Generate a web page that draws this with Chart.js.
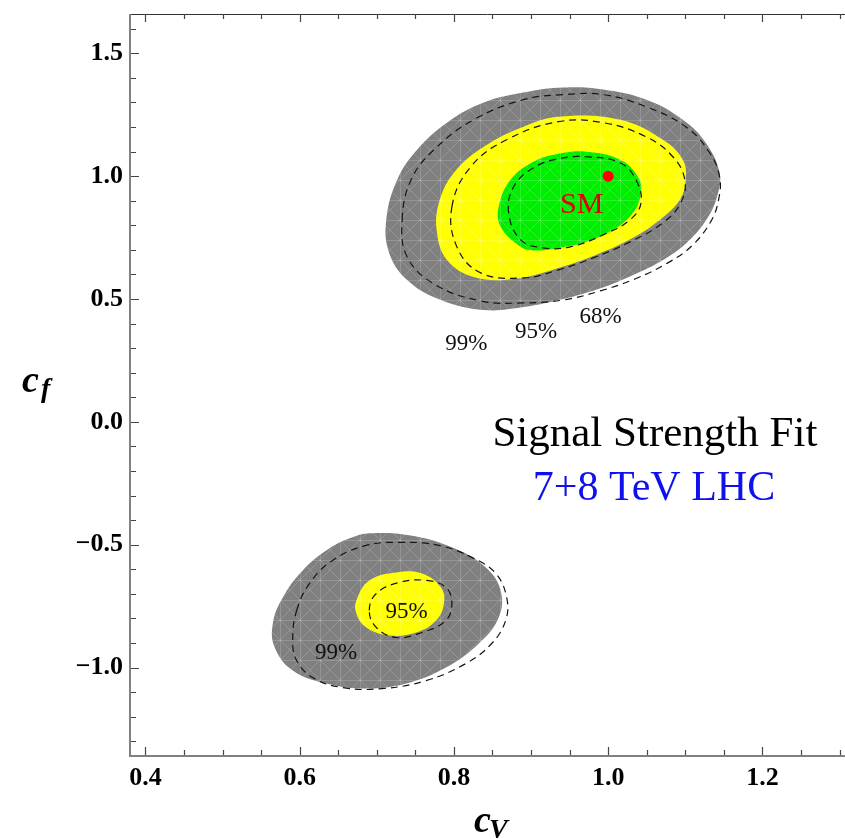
<!DOCTYPE html>
<html>
<head>
<meta charset="utf-8">
<title>Signal Strength Fit</title>
<script src="https://cdn.jsdelivr.net/npm/chart.js@4.4.1/dist/chart.umd.min.js"></script>
<style>
  html, body { margin: 0; padding: 0; background: #fff; }
  canvas { display: block; }
</style>
</head>
<body>
<canvas id="myChart" width="845" height="839"></canvas>
<script>
// axes
const xTicks = [0.4, 0.6, 0.8, 1.0, 1.2]
const xTickLabels = ['0.4', '0.6', '0.8', '1.0', '1.2']
const yTicks = [-1.0, -0.5, 0.0, 0.5, 1.0, 1.5]
const yTickLabels = ['\u22121.0', '\u22120.5', '0.0', '0.5', '1.0', '1.5']
const xMinorStep = 0.05
const yMinorStep = 0.1

// upper island (cV, cf) contours
const upper99Region = [
  [0.7123, 0.8223], [0.7265, 0.9853], [0.7523, 1.1076], [0.7910, 1.2177], [0.8387, 1.2993],
  [0.8903, 1.3400], [0.9419, 1.3604], [0.9935, 1.3523], [1.0490, 1.3115], [1.0968, 1.2299],
  [1.1265, 1.1361], [1.1445, 1.0139], [1.1419, 0.9242], [1.1290, 0.8304], [1.1032, 0.7326],
  [1.0735, 0.6633], [1.0297, 0.5940], [0.9871, 0.5410], [0.9419, 0.5002], [0.8903, 0.4676],
  [0.8387, 0.4554], [0.7832, 0.4961], [0.7394, 0.5777], [0.7161, 0.6877],
]
const upper95Region = [
  [0.7781, 0.7693], [0.7806, 0.8915], [0.8000, 1.0139], [0.8387, 1.1198], [0.8903, 1.2014],
  [0.9355, 1.2422], [1.0155, 1.2299], [1.0710, 1.1484], [1.0968, 1.0669], [1.1006, 0.9853],
  [1.0929, 0.9038], [1.0671, 0.8223], [1.0323, 0.7489], [0.9871, 0.6836], [0.9355, 0.6266],
  [0.8774, 0.5817], [0.8258, 0.5899], [0.7910, 0.6592],
]
const upper68Region = [
  [0.8581, 0.8752], [0.8735, 0.9853], [0.9032, 1.0587], [0.9355, 1.0913], [0.9716, 1.0995],
  [1.0155, 1.0669], [1.0387, 0.9976], [1.0426, 0.9323], [1.0323, 0.8508], [1.0065, 0.7815],
  [0.9677, 0.7285], [0.9355, 0.7081], [0.9032, 0.6973], [0.8865, 0.7122], [0.8606, 0.7937],
]
const upper99Line = [
  [0.7329, 0.8223], [0.7445, 0.9853], [0.7742, 1.1076], [0.8258, 1.2299], [0.8903, 1.3115],
  [0.9419, 1.3319], [0.9935, 1.3319], [1.0490, 1.2829], [1.1006, 1.2014], [1.1316, 1.0954],
  [1.1445, 0.9976], [1.1432, 0.9038], [1.1329, 0.8141], [1.1084, 0.7162], [1.0774, 0.6470],
  [1.0348, 0.5817], [0.9897, 0.5328], [0.9419, 0.4961], [0.8903, 0.4839], [0.8348, 0.4920],
  [0.7742, 0.5613], [0.7394, 0.6714],
]
const upper95Line = [
  [0.7974, 0.8752], [0.8219, 1.0383], [0.8684, 1.1484], [0.9355, 1.2218], [0.9935, 1.2177],
  [1.0490, 1.1606], [1.0839, 1.0791], [1.0994, 0.9853], [1.0942, 0.8915], [1.0710, 0.8100],
  [1.0284, 0.7325], [0.9806, 0.6673], [0.9355, 0.6184], [0.8903, 0.5858], [0.8348, 0.6062],
  [0.8039, 0.7122],
]
const upper68Line = [
  [0.8710, 0.8508], [0.8774, 0.9568], [0.9032, 1.0342], [0.9355, 1.0709], [0.9716, 1.0791],
  [1.0155, 1.0546], [1.0361, 0.9853], [1.0426, 0.8915], [1.0284, 0.8223], [0.9935, 0.7611],
  [0.9510, 0.7122], [0.9161, 0.7081], [0.8865, 0.7407],
]

// lower island
const lower99Region = [
  [0.5652, -0.8206], [0.5781, -0.7147], [0.6039, -0.6046], [0.6387, -0.5149], [0.6684, -0.4700],
  [0.6903, -0.4537], [0.7419, -0.4619], [0.7974, -0.5108], [0.8413, -0.5924], [0.8606, -0.6861],
  [0.8581, -0.7962], [0.8323, -0.9022], [0.7897, -1.0000], [0.7381, -1.0652], [0.6865, -1.0856],
  [0.6348, -1.0652], [0.5910, -1.0122], [0.5677, -0.9185],
]
const lower95Region = [
  [0.6735, -0.7269], [0.6903, -0.6453], [0.7252, -0.6128], [0.7587, -0.6169], [0.7832, -0.6739],
  [0.7871, -0.7391], [0.7768, -0.8084], [0.7510, -0.8573], [0.7161, -0.8695], [0.6865, -0.8369],
  [0.6735, -0.7799],
]
const lower99Line = [
  [0.5961, -0.7677], [0.6129, -0.6576], [0.6426, -0.5638], [0.6865, -0.5027], [0.7329, -0.4904],
  [0.7806, -0.5027], [0.8232, -0.5516], [0.8542, -0.6169], [0.8684, -0.7147], [0.8671, -0.8084],
  [0.8490, -0.9022], [0.8155, -0.9837], [0.7639, -1.0530], [0.7071, -1.0856], [0.6555, -1.0815],
  [0.6168, -1.0407], [0.5961, -0.9715], [0.5910, -0.8899],
]
const lower95Line = [
  [0.6903, -0.7677], [0.6994, -0.6984], [0.7290, -0.6535], [0.7639, -0.6453], [0.7897, -0.6739],
  [0.7974, -0.7391], [0.7897, -0.8084], [0.7587, -0.8573], [0.7252, -0.8777], [0.6994, -0.8369],
]

const smPoint = [1.0, 1.0]

// text placed at (cV, cf), baseline
const labelTexts = ['99%', '95%', '68%', '95%', '99%']
const labelX = [0.8161, 0.9065, 0.9903, 0.7387, 0.6471]
const labelY = [0.2923, 0.3412, 0.4024, -0.8002, -0.9633]

const SERIF = '"Liberation Serif", "Times New Roman", Times, serif'

// light triangular mesh like the Mathematica region fill
const makeMesh = (color) => {
  const s = 40
  const c = document.createElement('canvas')
  c.width = s
  c.height = s
  const g = c.getContext('2d')
  g.fillStyle = color
  g.fillRect(0, 0, s, s)
  g.strokeStyle = 'rgba(255,255,255,0.17)'
  g.lineWidth = 1
  g.beginPath()
  g.moveTo(0, 0.5); g.lineTo(s, 0.5)
  g.moveTo(0.5, 0); g.lineTo(0.5, s)
  g.moveTo(0, s / 2 + 0.5); g.lineTo(s, s / 2 + 0.5)
  g.moveTo(s / 2 + 0.5, 0); g.lineTo(s / 2 + 0.5, s)
  g.moveTo(0, 0); g.lineTo(s, s)
  g.moveTo(s, 0); g.lineTo(0, s)
  g.moveTo(s / 2, 0); g.lineTo(s, s / 2); g.lineTo(s / 2, s); g.lineTo(0, s / 2); g.closePath()
  g.stroke()
  return g.createPattern(c, 'repeat')
}

const grayFill = makeMesh('#808080')
const yellowFill = makeMesh('#ffff00')
const greenFill = makeMesh('#00ee00')

const toXY = (pts) => pts.map(([x, y]) => ({ x, y }))

const region = (pts, color, order) => ({
  data: toXY(pts),
  showLine: true,
  closed: true,
  fill: 'shape',
  backgroundColor: color,
  borderWidth: 0,
  tension: 0.4,
  spanGaps: true,
  pointRadius: 0,
  order,
})

const contour = (pts, order) => ({
  data: toXY(pts),
  showLine: true,
  closed: true,
  fill: false,
  borderColor: '#151515',
  borderWidth: 1.2,
  borderDash: [7, 5],
  tension: 0.4,
  spanGaps: true,
  pointRadius: 0,
  order,
})

// close every contour into a smooth loop
const loopPlugin = {
  id: 'loop',
  afterDatasetsUpdate(chart) {
    chart.data.datasets.forEach((ds, i) => {
      const meta = chart.getDatasetMeta(i)
      if (ds.closed && meta.dataset) {
        meta.dataset._loop = true
        meta.dataset._fullLoop = true
      }
    })
  },
}

const framePlugin = {
  id: 'frame',
  afterDatasetsDraw(chart) {
    const { ctx, scales: { x, y } } = chart
    ctx.save()
    ctx.fillStyle = '#111'
    ctx.font = `23px ${SERIF}`
    ctx.textAlign = 'center'
    ctx.textBaseline = 'alphabetic'
    labelTexts.forEach((t, i) => {
      ctx.fillText(t, x.getPixelForValue(labelX[i]), y.getPixelForValue(labelY[i]))
    })
    ctx.fillStyle = '#e00000'
    ctx.font = `30px ${SERIF}`
    ctx.fillText('SM', x.getPixelForValue(0.9658), y.getPixelForValue(0.8508))

    ctx.fillStyle = '#000'
    ctx.font = `43px ${SERIF}`
    ctx.fillText('Signal Strength Fit', x.getPixelForValue(1.0606), y.getPixelForValue(-0.0991))
    ctx.fillStyle = '#1010ee'
    ctx.font = `42px ${SERIF}`
    ctx.fillText('7+8 TeV LHC', x.getPixelForValue(1.0594), y.getPixelForValue(-0.3192))
    ctx.restore()
  },
  afterDraw(chart) {
    const { ctx, chartArea: a, scales: { x, y } } = chart
    ctx.save()
    // frame
    ctx.strokeStyle = '#333'
    ctx.lineWidth = 1
    ctx.beginPath()
    ctx.moveTo(a.left, a.top + 0.5)
    ctx.lineTo(chart.width, a.top + 0.5)
    ctx.stroke()
    ctx.strokeStyle = '#808080'
    ctx.lineWidth = 2
    ctx.beginPath()
    ctx.moveTo(a.left, a.top)
    ctx.lineTo(a.left, a.bottom)
    ctx.lineTo(chart.width, a.bottom)
    ctx.stroke()

    // inward ticks
    ctx.strokeStyle = '#444'
    ctx.lineWidth = 1.2
    ctx.beginPath()
    for (let v = 0.4; v <= x.max + 1e-9; v += xMinorStep) {
      const major = xTicks.some((t) => Math.abs(t - v) < 1e-6)
      const len = major ? 8 : 5
      const px = Math.round(x.getPixelForValue(v)) + 0.5
      ctx.moveTo(px, a.bottom - 1); ctx.lineTo(px, a.bottom - 1 - len)
      ctx.moveTo(px, a.top); ctx.lineTo(px, a.top + len)
    }
    for (let v = -1.3; v <= y.max + 1e-9; v += yMinorStep) {
      const major = yTicks.some((t) => Math.abs(t - v) < 1e-6)
      const len = major ? 8 : 5
      const py = Math.round(y.getPixelForValue(v)) + 0.5
      ctx.moveTo(a.left + 1, py); ctx.lineTo(a.left + 1 + len, py)
    }
    ctx.stroke()

    // axis titles
    ctx.fillStyle = '#000'
    ctx.textAlign = 'left'
    ctx.textBaseline = 'alphabetic'
    ctx.font = `italic bold 38px ${SERIF}`
    ctx.fillText('c', 22, 392)
    ctx.fillText('c', 474, 832)
    ctx.font = `italic bold 28px ${SERIF}`
    ctx.fillText('f', 41, 397)
    ctx.fillText('V', 489, 838)
    ctx.restore()
  },
}

const ctx = document.getElementById('myChart').getContext('2d')
const myChart = new Chart(ctx, {
  type: 'scatter',
  data: {
    datasets: [
      region(upper99Region, grayFill, 20),
      region(upper95Region, yellowFill, 19),
      region(upper68Region, greenFill, 18),
      region(lower99Region, grayFill, 17),
      region(lower95Region, yellowFill, 16),
      contour(upper99Line, 10),
      contour(upper95Line, 9),
      contour(upper68Line, 8),
      contour(lower99Line, 7),
      contour(lower95Line, 6),
      {
        data: [{ x: smPoint[0], y: smPoint[1] }],
        pointRadius: 5.5,
        pointBackgroundColor: '#ff0000',
        pointBorderWidth: 0,
        order: 1,
      },
    ],
  },
  options: {
    responsive: false,
    animation: false,
    events: [],
    layout: { padding: { top: 14, right: 2, left: 0, bottom: 0 } },
    plugins: {
      legend: { display: false },
      tooltip: { enabled: false },
    },
    scales: {
      x: {
        type: 'linear',
        min: 0.38,
        max: 1.3,
        afterBuildTicks: (scale) => { scale.ticks = xTicks.map((v) => ({ value: v })) },
        afterFit: (scale) => {
          scale.height = 83
          scale.paddingLeft = 0
          scale.paddingRight = 0
        },
        grid: { display: false, drawTicks: false },
        border: { display: false },
        ticks: {
          callback: (v, i) => xTickLabels[i],
          autoSkip: false,
          maxRotation: 0,
          padding: 7,
          color: '#000',
          font: { family: SERIF, size: 26, weight: 'bold' },
        },
      },
      y: {
        type: 'linear',
        min: -1.36,
        max: 1.66,
        afterBuildTicks: (scale) => { scale.ticks = yTicks.map((v) => ({ value: v })) },
        afterFit: (scale) => {
          scale.width = 130
          scale.paddingTop = 0
          scale.paddingBottom = 0
        },
        grid: { display: false, drawTicks: false },
        border: { display: false },
        ticks: {
          callback: (v, i) => yTickLabels[i],
          autoSkip: false,
          padding: 7,
          color: '#000',
          font: { family: SERIF, size: 26, weight: 'bold' },
        },
      },
    },
  },
  plugins: [loopPlugin, framePlugin],
})
</script>
</body>
</html>
